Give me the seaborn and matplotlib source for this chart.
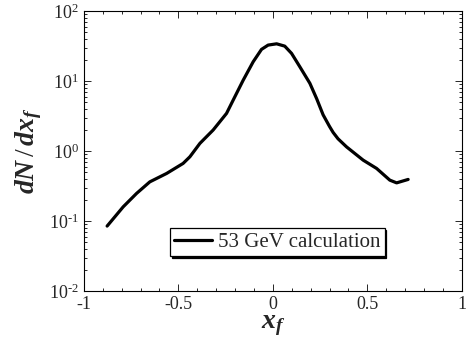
import numpy as np
import pandas as pd
import matplotlib
matplotlib.use('Agg')
import matplotlib.pyplot as plt
import seaborn as sns
from matplotlib.ticker import MultipleLocator, LogLocator, NullFormatter

# curve
xf = [-0.877, -0.792, -0.721, -0.651, -0.562, -0.475, -0.439, -0.386, -0.316,
      -0.245, -0.210, -0.157, -0.104, -0.060, -0.025, 0.020, 0.063, 0.099,
      0.143, 0.196, 0.232, 0.266, 0.300, 0.319, 0.345, 0.390, 0.478, 0.549,
      0.619, 0.655, 0.716]
dndx = [0.085, 0.160, 0.249, 0.364, 0.480, 0.667, 0.83, 1.29, 2.0,
        3.46, 5.35, 10.3, 18.9, 28.4, 32.7, 34.1, 31.6, 24.9,
        16.0, 9.3, 5.6, 3.3, 2.25, 1.85, 1.5, 1.15, 0.743, 0.566,
        0.385, 0.352, 0.394]
label = '53 GeV calculation'
yticks = [1e-2, 1e-1, 1e0, 1e1, 1e2]
ytick_labels = ['$10^{\u2010 2}$', '$10^{\u2010 1}$', '$10^{0}$', '$10^{1}$', '$10^{2}$']
xticks = [-1, -0.5, 0, 0.5, 1]
xtick_labels = ['-1', '-0.5', '0', '0.5', '1']

df = pd.DataFrame({'xf': xf, 'dndx': dndx})

sns.set_style('ticks')
plt.rcParams['font.family'] = ['Liberation Serif', 'DejaVu Serif']
plt.rcParams['axes.unicode_minus'] = False
plt.rcParams['mathtext.fontset'] = 'custom'
plt.rcParams['mathtext.rm'] = 'Liberation Serif'
plt.rcParams['mathtext.it'] = 'Liberation Serif:italic:bold'
plt.rcParams['mathtext.bf'] = 'Liberation Serif:bold'

fig = plt.figure(figsize=(4.66, 3.47), dpi=100)
ax = fig.add_axes([0.180, 0.161, 0.811, 0.807])

sns.lineplot(data=df, x='xf', y='dndx', ax=ax, color='black', linewidth=2.3,
             label=label, sort=False)

ax.set_yscale('log')
ax.set_xlim(-1, 1)
ax.set_ylim(1e-2, 1e2)

ax.xaxis.set_minor_locator(MultipleLocator(0.1))
ax.set_xticks(xticks)
ax.set_xticklabels(xtick_labels)
ax.set_yticks(yticks)
ax.set_yticklabels(ytick_labels)
ax.yaxis.set_minor_locator(LogLocator(base=10, subs=np.arange(2, 10)))
ax.yaxis.set_minor_formatter(NullFormatter())

ax.tick_params(which='both', direction='in', top=True, right=True,
               labelsize=13, width=0.7)
ax.tick_params(which='major', length=5)
ax.tick_params(which='minor', length=2.5)
for s in ax.spines.values():
    s.set_linewidth(0.8)
    s.set_color('black')

ax.set_xlabel(r'$x_f$', fontsize=20, labelpad=0)
ax.set_ylabel(r'$dN\,/\,dx_f$', fontsize=20, labelpad=4)

leg = ax.legend(loc='lower left', bbox_to_anchor=(0.228, 0.125), fontsize=15,
                frameon=True, fancybox=False, edgecolor='black', framealpha=1,
                shadow={'color': 'black', 'alpha': 1, 'ox': 1.3, 'oy': -1.3},
                handlelength=1.8, handletextpad=0.3, borderpad=0.2,
                borderaxespad=0)
leg.get_frame().set_linewidth(0.9)

fig.savefig('out.png', dpi=100)
